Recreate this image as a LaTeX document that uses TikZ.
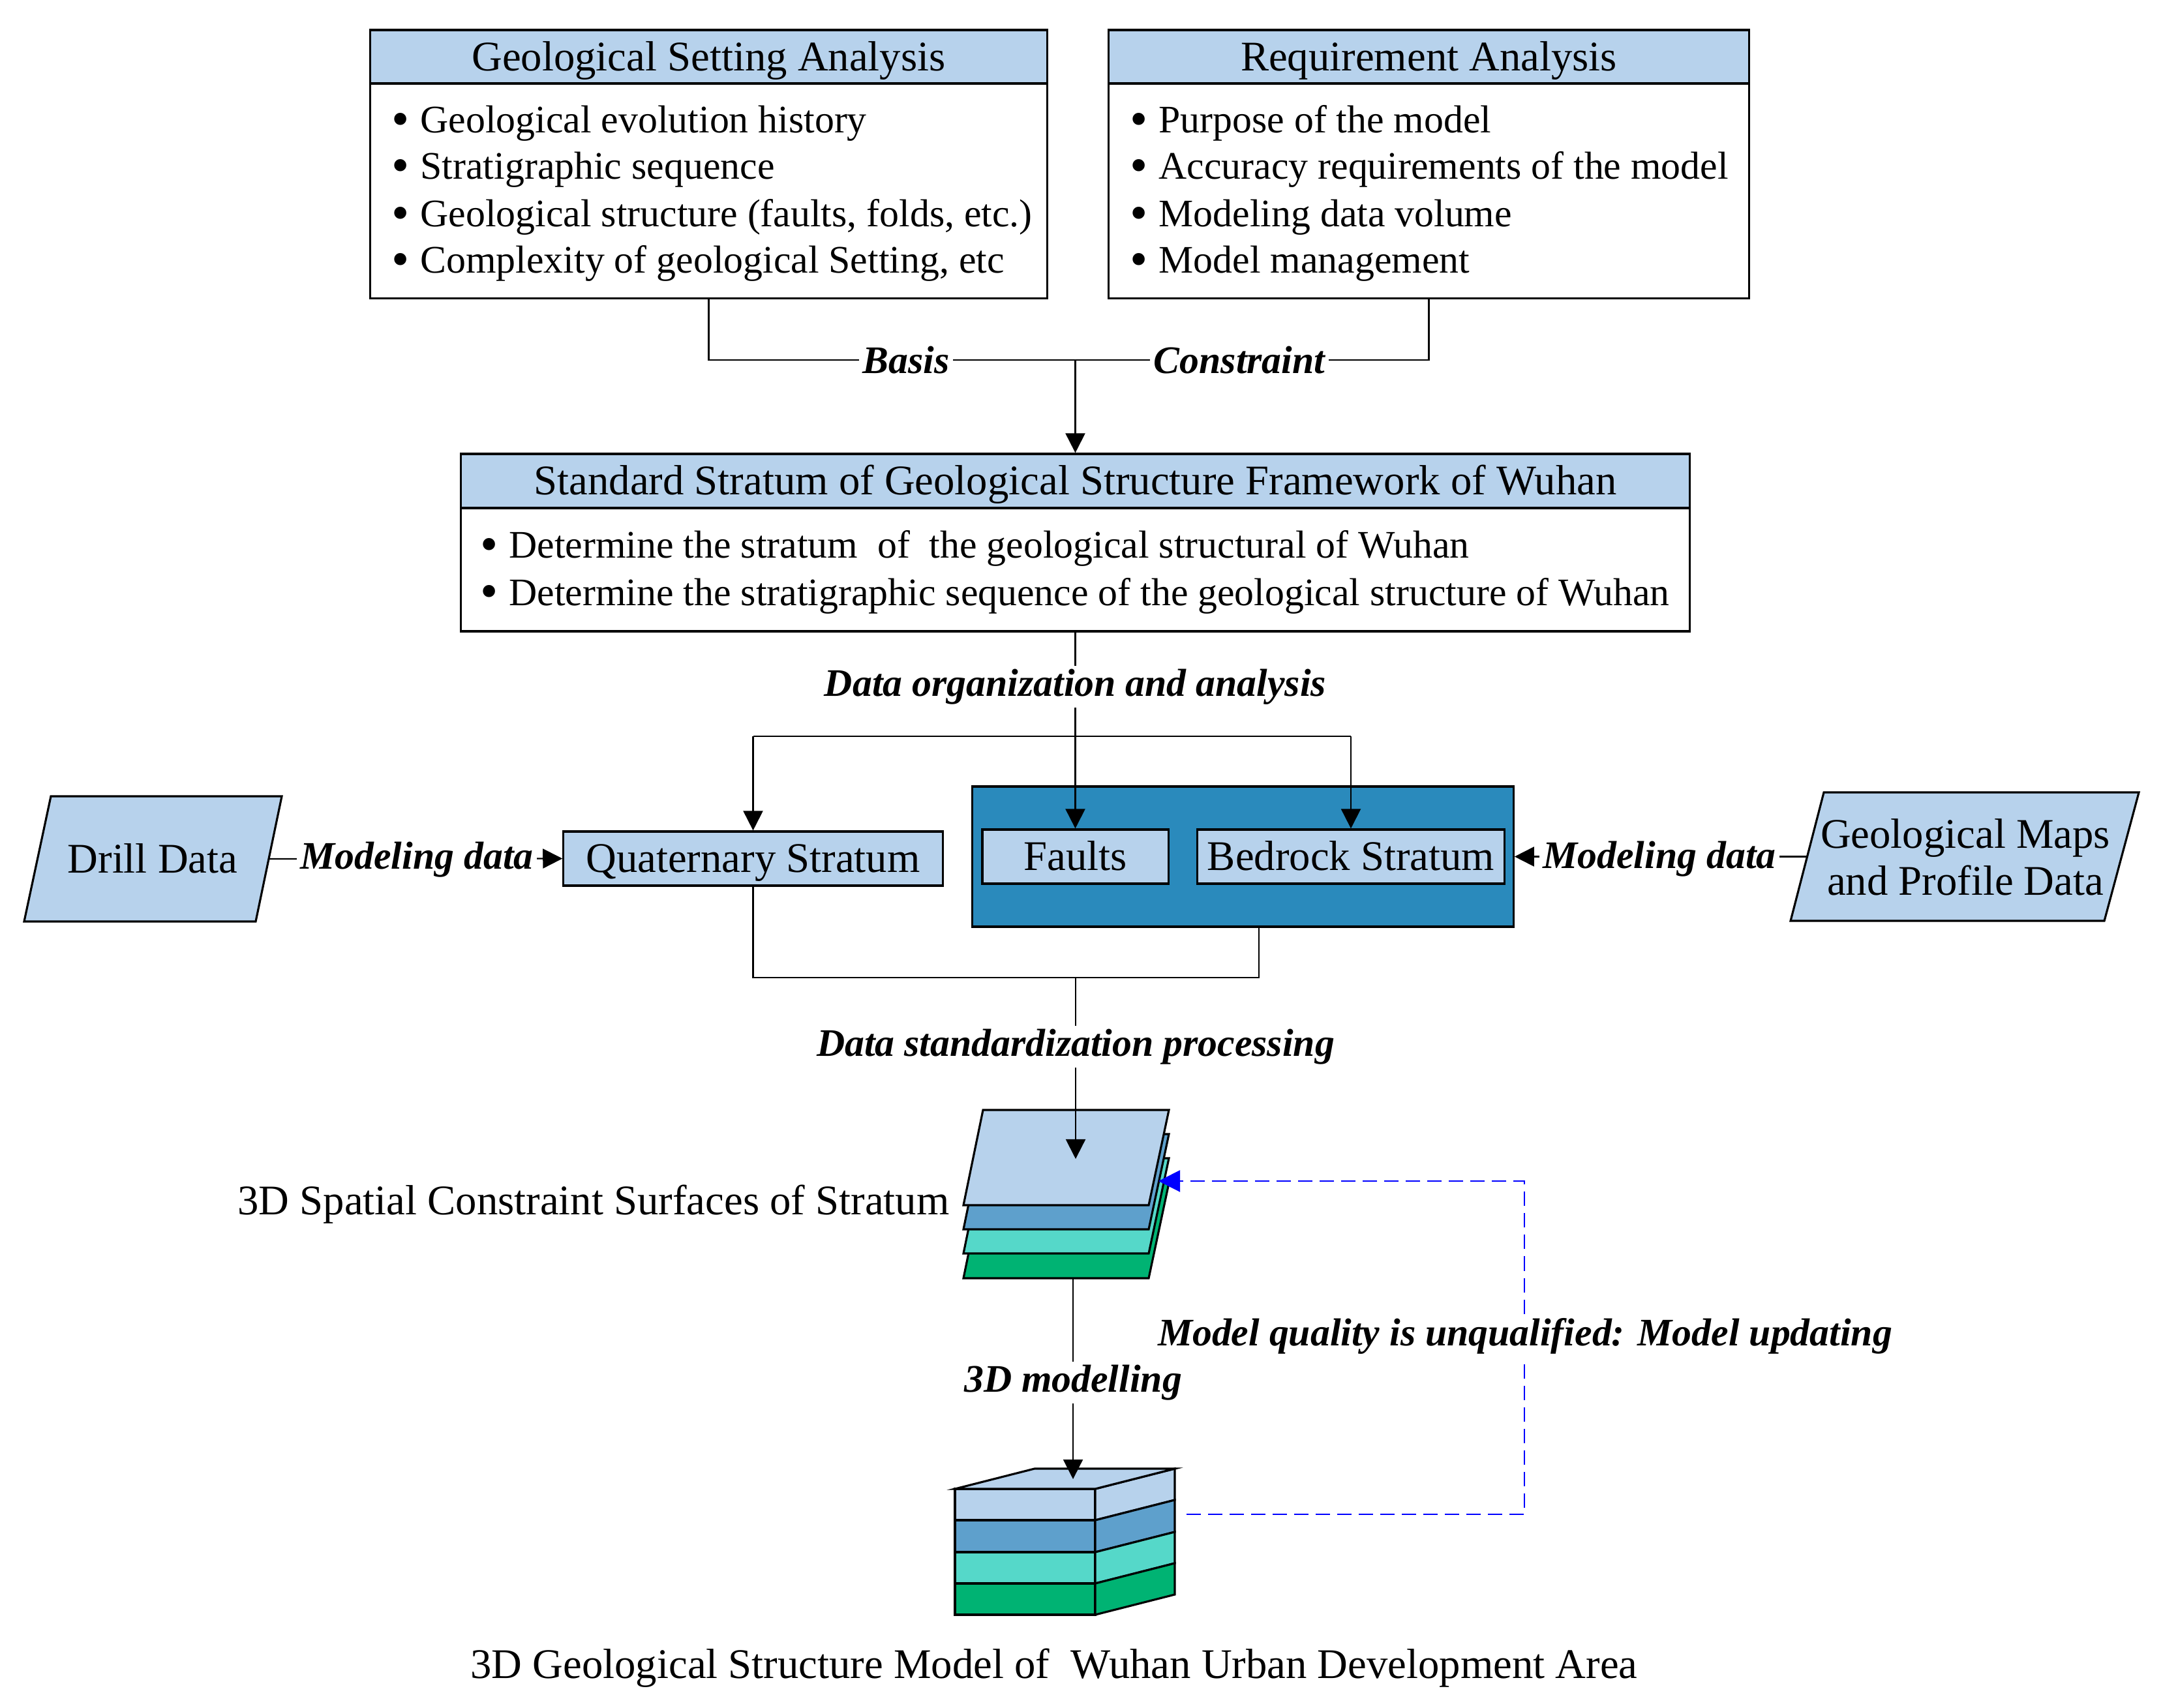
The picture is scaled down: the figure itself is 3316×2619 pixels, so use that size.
\documentclass[tikz,border=0pt]{standalone}
\usepackage{graphicx}
\usepackage{fontspec}
\setmainfont{Liberation Serif}
\usetikzlibrary{arrows.meta}
\newcommand\mainfs{\fontsize{18.4}{22}\selectfont}
\newcommand\bulfs{\fontsize{17}{20}\selectfont}
\newcommand\lblfs{\fontsize{17}{20}\selectfont\bfseries\itshape}
\newcommand\bul{\raisebox{-0.07em}{\scalebox{1.3}{•}}\hspace{0.28em}}
\definecolor{lblue}{HTML}{B7D2EC}
\definecolor{smid}{HTML}{5EA0CC}
\definecolor{steal}{HTML}{55D8C9}
\definecolor{sgreen}{HTML}{00B373}
\definecolor{dkblue}{HTML}{2A8ABC}
\tikzset{
  hdr/.style={draw, line width=0.9pt, fill=lblue, inner sep=0pt, text height=12.2pt, text depth=0pt, font=\mainfs},
  bodyb/.style={draw, line width=0.9pt, fill=white, inner sep=0pt},
  btxt/.style={inner sep=0pt, anchor=base west, font=\bulfs},
  plain/.style={inner sep=0pt, font=\mainfs},
  lbl/.style={fill=white, inner sep=1.5pt, font=\lblfs},
  conn/.style={line width=0.6pt},
  arr/.style={conn, -{Triangle[length=0.3cm,width=0.3cm]}},
  dashblue/.style={draw=blue, line width=0.6pt, dash pattern=on 0.22cm off 0.11cm, -{Triangle[length=0.33cm,width=0.33cm]}},
  shapeline/.style={draw, line width=0.9pt},
}
\begin{document}
\begin{tikzpicture}[x=0.01cm, y=-0.01cm]
\useasboundingbox (0,0) rectangle (3316,2619);

% ---- top boxes
\node[bodyb, minimum width=10.37cm, minimum height=3.29cm] (g1body) at (1086.5,292.5) {};
\node[hdr, minimum width=10.37cm, minimum height=0.82cm] (g1head) at (1086.5,87) {Geological Setting Analysis};
\node[btxt] (g1a) at (600,204) {\bul Geological evolution history};
\node[btxt] (g1b) at (600,275) {\bul Stratigraphic sequence};
\node[btxt] (g1c) at (600,348) {\bul Geological structure (faults, folds, etc.)};
\node[btxt] (g1d) at (600,419) {\bul Complexity of geological Setting, etc};

\node[bodyb, minimum width=9.81cm, minimum height=3.29cm] (g2body) at (2190.5,292.5) {};
\node[hdr, minimum width=9.81cm, minimum height=0.82cm] (g2head) at (2190.5,87) {Requirement Analysis};
\node[btxt] (g2a) at (1732,204) {\bul Purpose of the model};
\node[btxt] (g2b) at (1732,275) {\bul Accuracy requirements of the model};
\node[btxt] (g2c) at (1732,348) {\bul Modeling data volume};
\node[btxt] (g2d) at (1732,419) {\bul Model management};

% ---- standard stratum box
\node[bodyb, minimum width=18.83cm, minimum height=1.89cm] (s3body) at (1648.5,873.5) {};
\node[hdr, minimum width=18.83cm, minimum height=0.83cm] (s3head) at (1648.5,737.5) {Standard Stratum of Geological Structure Framework of Wuhan};
\node[btxt] (s3a) at (736,856) {\bul Determine the stratum\ \ of\ \ the geological structural of Wuhan};
\node[btxt] (s3b) at (736,928) {\bul Determine the stratigraphic sequence of the geological structure of Wuhan};

% ---- connectors top
\coordinate (junc) at (1648.5,552);
\draw[conn] (g1body.south) |- (junc);
\draw[conn] (g2body.south) |- (junc);
\draw[arr] (junc) -- (s3head.north);
\node[lbl] (basis) at (1389,552) {Basis};
\node[lbl] (constr) at (1900,552) {Constraint};

% ---- middle row
\draw[shapeline, fill=lblue] (78,1221) -- (432,1221) -- (392,1413) -- (37,1413) -- cycle;
\node[plain, text height=12.2pt, text depth=0pt] (drill) at (234,1317) {Drill Data};
\coordinate (drillE) at (412,1317);

\draw[shapeline, fill=lblue] (2796,1215) -- (3279,1215) -- (3226,1412) -- (2745,1412) -- cycle;
\node[plain, anchor=base] (geoA) at (3013,1300) {Geological Maps};
\node[plain, anchor=base] (geoB) at (3013,1372) {and Profile Data};
\coordinate (geoW) at (2771,1313.5);

\node[hdr, minimum width=5.81cm, minimum height=0.83cm] (quat) at (1154.5,1316.5) {Quaternary Stratum};
\node[draw, line width=0.9pt, fill=dkblue, inner sep=0pt, minimum width=8.29cm, minimum height=2.15cm] (dark) at (1905.5,1313.5) {};
\node[hdr, minimum width=2.85cm, minimum height=0.83cm] (faults) at (1648.5,1313.5) {Faults};
\node[hdr, minimum width=4.70cm, minimum height=0.83cm] (bedrock) at (2071,1313.5) {Bedrock Stratum};

\coordinate (brQ) at (1154.5,1129);
\coordinate (brF) at (1648.5,1129);
\coordinate (brB) at (2071,1129);
\draw[conn] (s3body.south) -- (brF);
\draw[conn] (brQ) -- (brB);
\draw[arr] (brQ) -- (quat.north);
\draw[arr] (brF) -- (faults.north);
\draw[arr] (brB) -- (bedrock.north);
\node[lbl] (orgl) at (1648.5,1053) {Data organization and analysis};

\draw[arr] (drillE) -- (quat.west);
\node[lbl] (md1) at (639,1318) {Modeling data};
\draw[arr] (geoW) -- (dark.east);
\node[lbl] (md2) at (2544,1317) {Modeling data};

% ---- surfaces
\foreach \d/\c in {112/sgreen,74/steal,37/smid,0/lblue}{
  \draw[shapeline, fill=\c] (1477,1848+\d) -- (1761,1848+\d) -- (1792,1702+\d) -- (1507,1702+\d) -- cycle;
}
\node[plain, anchor=base east] (surfl) at (1456,1862) {3D Spatial Constraint Surfaces of Stratum};

\coordinate (darkS) at (1930,1421);
\coordinate (mergeL) at (1154.5,1499);
\coordinate (mergeR) at (1930,1499);
\coordinate (mergeM) at (1649,1499);
\coordinate (surfTip) at (1649,1777);
\draw[conn] (quat.south) -- (mergeL) -- (mergeR) -- (darkS);
\draw[arr] (mergeM) -- (surfTip);
\node[lbl] (stdl) at (1649,1605) {Data standardization processing};

% ---- cube
\foreach \yt/\yb/\c in {2283/2331/lblue,2331/2380/smid,2380/2428/steal,2428/2476/sgreen}{
  \draw[shapeline, fill=\c] (1464,\yt) rectangle (1679,\yb);
  \draw[shapeline, fill=\c] (1679,\yt) -- (1801,\yt-31) -- (1801,\yb-31) -- (1679,\yb) -- cycle;
}
\draw[shapeline, fill=lblue] (1464,2283) -- (1586,2252) -- (1801,2252) -- (1679,2283) -- cycle;
\node[plain, anchor=base] (capt) at (1616,2573) {3D Geological Structure Model of\ \ Wuhan Urban Development Area};

\coordinate (surfB) at (1645,1960);
\coordinate (cubeT) at (1645,2268);
\draw[arr] (surfB) -- (cubeT);
\node[lbl] (mod3d) at (1645,2120) {3D modelling};

% ---- feedback
\coordinate (cubeR) at (1819,2322);
\coordinate (fbR1) at (2337,2322);
\coordinate (fbR2) at (2337,1811);
\coordinate (surfR) at (1776,1811);
\draw[dashblue] (cubeR) -- (fbR1) -- (fbR2) -- (surfR);
\node[lbl] (qual) at (2338,2049) {Model quality is unqualified: Model updating};
\end{tikzpicture}
\end{document}
